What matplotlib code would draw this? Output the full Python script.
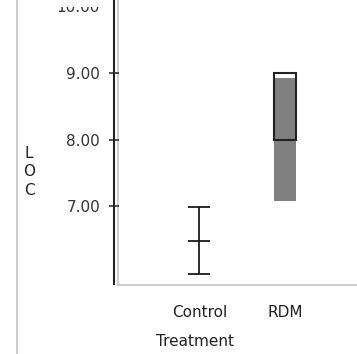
import matplotlib
import matplotlib.pyplot as plt
from matplotlib.lines import Line2D
from matplotlib.patches import Rectangle

matplotlib.use("Agg")

# Data
categories = ["Control", "RDM"]
y_ticks = [7.0, 8.0, 9.0, 10.0]
y_tick_labels = ["7.00", "8.00", "9.00", "10.00"]

# Control: whisker low / mid / high
control_values = [6.0, 6.5, 7.0]

# RDM: filled range and outlined box
rdm_fill_low = 7.09
rdm_fill_high = 8.92
rdm_box_low = 8.0
rdm_box_high = 9.0

W, H = 357, 354
fig = plt.figure(figsize=(W / 100, H / 100), dpi=100)
ax = fig.add_axes([118 / W, 1 - 285 / H, (W - 118) / W, 285 / H])

ax.set_xlim(-0.95, 1.842)
ax.set_ylim(5.836, 10.09)

# Control whisker
ax.vlines(0, min(control_values), max(control_values), color="#1a1a1a", lw=1.3)
ax.hlines(control_values, -0.128, 0.128, color="#1a1a1a", lw=1.3)

# RDM box
bw = 0.253
ax.bar(1, rdm_fill_high - rdm_fill_low, bottom=rdm_fill_low, width=bw,
       color="#808080", edgecolor="none")
ax.bar(1, rdm_box_high - rdm_box_low, bottom=rdm_box_low, width=bw,
       fill=False, edgecolor="#222222", lw=1.5)

# Axes styling
for s in ["top", "right"]:
    ax.spines[s].set_visible(False)
for s in ["bottom", "left"]:
    ax.spines[s].set_color("#c0c0c0")
    ax.spines[s].set_linewidth(1.1)

# dark value axis drawn slightly left of the frame
ax2 = fig.add_axes([114 / W, 1 - 284 / H, 0.0001, 284 / H])
ax2.set_ylim(ax.get_ylim())
ax2.patch.set_visible(False)
for s in ["top", "right", "bottom"]:
    ax2.spines[s].set_visible(False)
ax2.spines["left"].set_color("#222222")
ax2.spines["left"].set_linewidth(1.5)
ax2.set_xticks([])
ax2.set_yticks(y_ticks)
ax2.set_yticklabels(y_tick_labels)
ax2.tick_params(axis="y", direction="inout", length=7, width=1.1,
                color="#222222", labelsize=11, labelcolor="#333333", pad=6.5)
ax2.yaxis.get_major_ticks()[-1].tick1line.set_visible(False)

ax.tick_params(axis="y", left=False, labelleft=False)
ax.set_xticks([0, 1])
ax.set_xticklabels(categories)
ax.tick_params(axis="x", length=0, pad=14.5, labelsize=11, labelcolor="#222222")

ax.set_xlabel("Treatment", fontsize=11, color="#222222")
ax.xaxis.set_label_coords((195 - 118) / (W - 118), (285 - 342) / 285)
ax.xaxis.label.set_va("center")

ax.set_ylabel("L\nO\nC", rotation=0, fontsize=11, color="#222222",
              linespacing=1.33)
ax.yaxis.set_label_coords((29 - 118) / (W - 118), (285 - 172) / 285)
ax.yaxis.label.set_va("center")
ax.yaxis.label.set_ha("center")

# outer gray panel line
fig.add_artist(Line2D([16.5 / W, 16.5 / W], [0, 1], color="#c0c0c0", lw=1.1))
# the top label is cut by the panel edge in the original
fig.add_artist(Rectangle((40 / W, 1 - 7 / H), 68 / W, 7 / H,
                         facecolor="white", edgecolor="none", zorder=10))

fig.savefig("out.png", dpi=100, facecolor="white")
